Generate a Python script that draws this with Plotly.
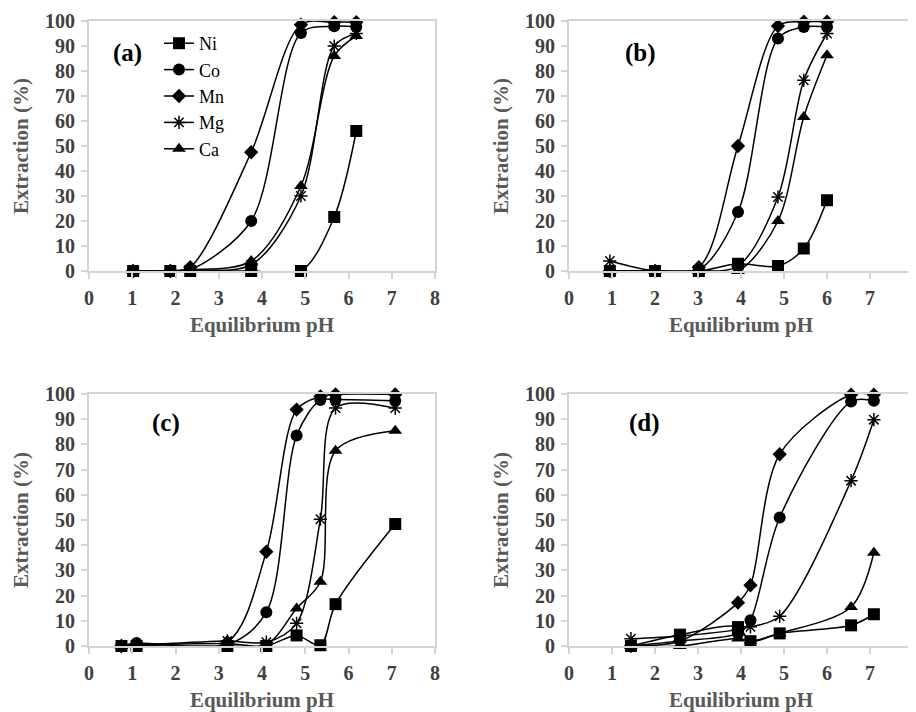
import plotly.graph_objects as go

# ---------------- data ----------------
metals = ["Ni", "Co", "Mn", "Mg", "Ca"]
panel_labels = ["(a)", "(b)", "(c)", "(d)"]
x_ticks = [0, 1, 2, 3, 4, 5, 6, 7, 8]
y_ticks = [0, 10, 20, 30, 40, 50, 60, 70, 80, 90, 100]

ph_a = [1.02, 1.88, 2.34, 3.75, 4.9, 5.67, 6.18]
ni_a = [0, 0, 0, 0, 0, 21.6, 56]
co_a = [0, 0, 0.5, 20, 95.2, 97.9, 97.6]
mn_a = [0, 0, 1.5, 47.5, 98.5, 99.5, 99.5]
mg_a = [0, 0, 0.5, 2.5, 30, 90, 95]
ca_a = [0, 0, 0.5, 4, 34, 86, 94]

ph_b = [0.95, 2.0, 3.02, 3.93, 4.86, 5.46, 6.0]
ni_b = [0, 0, 0, 2.9, 2, 9, 28.3]
co_b = [0, 0, 0.5, 23.6, 93, 97.6, 97.6]
mn_b = [0, 0, 1.5, 50, 98, 99.7, 99.7]
mg_b = [4, 0, 0, 2, 29.6, 76.3, 95]
ca_b = [0, 0, 0, 0, 20, 61.6, 86.3]

ph_c = [0.75, 1.1, 3.2, 4.1, 4.8, 5.35, 5.7, 7.08]
ni_c = [0, 0, 0, 0, 4.2, 0.3, 16.6, 48.4]
co_c = [0, 1.2, 0.5, 13.4, 83.5, 97.6, 97.8, 97.3]
mn_c = [0, 0.5, 1.5, 37.4, 93.8, 99, 99.8, 99.8]
mg_c = [0, 0.3, 2, 1.5, 9, 50.3, 94.4, 94.4]
ca_c = [0, 0.3, 1, 0.5, 14.9, 25.5, 77.5, 85.4]

ph_d = [1.44, 2.58, 3.93, 4.22, 4.9, 6.56, 7.09]
ni_d = [0, 4.5, 7.5, 1.9, 5, 8.2, 12.6]
co_d = [0, 2, 5, 10.2, 51, 97, 97.3]
mn_d = [0, 2, 17.2, 24.1, 76.1, 99.7, 99.7]
mg_d = [2.9, 4, 6.5, 7.6, 11.8, 65.6, 89.8]
ca_d = [0, 0, 3, 2, 5, 15.5, 37]

panels = [
    (ph_a, [ni_a, co_a, mn_a, mg_a, ca_a]),
    (ph_b, [ni_b, co_b, mn_b, mg_b, ca_b]),
    (ph_c, [ni_c, co_c, mn_c, mg_c, ca_c]),
    (ph_d, [ni_d, co_d, mn_d, mg_d, ca_d]),
]

# ---------------- style ----------------
symbols = {"Ni": "square", "Co": "circle", "Mn": "diamond", "Mg": "asterisk-open", "Ca": "triangle-up"}
sizes = {"Ni": 12, "Co": 12, "Mn": 11, "Mg": 11, "Ca": 12}
FONT = "Liberation Serif"

W, H = 916, 712
OFF = 8  # page body margin
xdoms = [((89 - OFF) / W, (435 - OFF) / W), ((569 - OFF) / W, (913 - OFF) / W)]
ydoms = [(1 - (271 - OFF) / H, 1 - (21 - OFF) / H), (1 - (646 - OFF) / H, 1 - (394 - OFF) / H)]
label_pos = [(0.9, 87), (1.66, 87), (1.77, 88.5), (1.75, 88.5)]

fig = go.Figure()
layout = {}
annotations = []
for i, (ph, series) in enumerate(panels):
    r, c = divmod(i, 2)
    ax = "" if i == 0 else str(i + 1)
    for name, vals in zip(metals, series):
        fig.add_trace(go.Scatter(
            x=ph, y=vals, name=name, mode="lines+markers",
            xaxis="x" + ax, yaxis="y" + ax,
            line=dict(color="black", width=1.5, shape="spline", smoothing=0.9),
            marker=dict(symbol=symbols[name], size=sizes[name], color="black",
                        line=dict(color="black", width=1.5 if name == "Mg" else 0)),
            cliponaxis=False,
            showlegend=(i == 0),
        ))
    layout["xaxis" + ax] = dict(domain=xdoms[c], anchor="y" + ax,
                                range=[0, 8], tickmode="array", tickvals=x_ticks,
                                ticktext=[f"<b>{v}</b>" for v in x_ticks],
                                ticklabelstandoff=2,
                                title=dict(text="<b>Equilibrium pH</b>", standoff=9))
    layout["yaxis" + ax] = dict(domain=ydoms[r], anchor="x" + ax,
                                range=[0, 100], tickmode="array", tickvals=y_ticks,
                                ticktext=[f"<b>{v}</b>" for v in y_ticks],
                                ticklabelstandoff=2,
                                title=dict(text="<b>Extraction (%)</b>", standoff=11))
    lx, ly = label_pos[i]
    annotations.append(dict(x=lx, y=ly, xref="x" + ax, yref="y" + ax,
                            text="<b>" + panel_labels[i] + "</b>", showarrow=False,
                            font=dict(family=FONT, size=25, color="black")))

fig.update_layout(
    template="none",
    width=W, height=H,
    margin=dict(l=0, r=0, t=0, b=0),
    font=dict(family=FONT, size=20, color="#404040"),
    paper_bgcolor="white", plot_bgcolor="white",
    annotations=annotations,
    showlegend=True,
    legend=dict(x=151 / W, y=1 - 17 / H, xanchor="left", yanchor="top",
                bgcolor="rgba(0,0,0,0)", tracegroupgap=0,
                font=dict(family=FONT, size=18, color="black")),
    **layout,
)
axis_style = dict(showgrid=False, zeroline=False, showline=True, mirror=True,
                  linecolor="#d4d4d4", linewidth=2, ticks="outside", ticklen=6,
                  tickcolor="#d4d4d4", tickwidth=1.5, automargin=False,
                  tickfont=dict(family=FONT, size=20, color="#404040"),
                  title_font=dict(family=FONT, size=21, color="#595959"))
fig.update_xaxes(**axis_style)
fig.update_yaxes(**axis_style)

fig.write_html("out.html")
